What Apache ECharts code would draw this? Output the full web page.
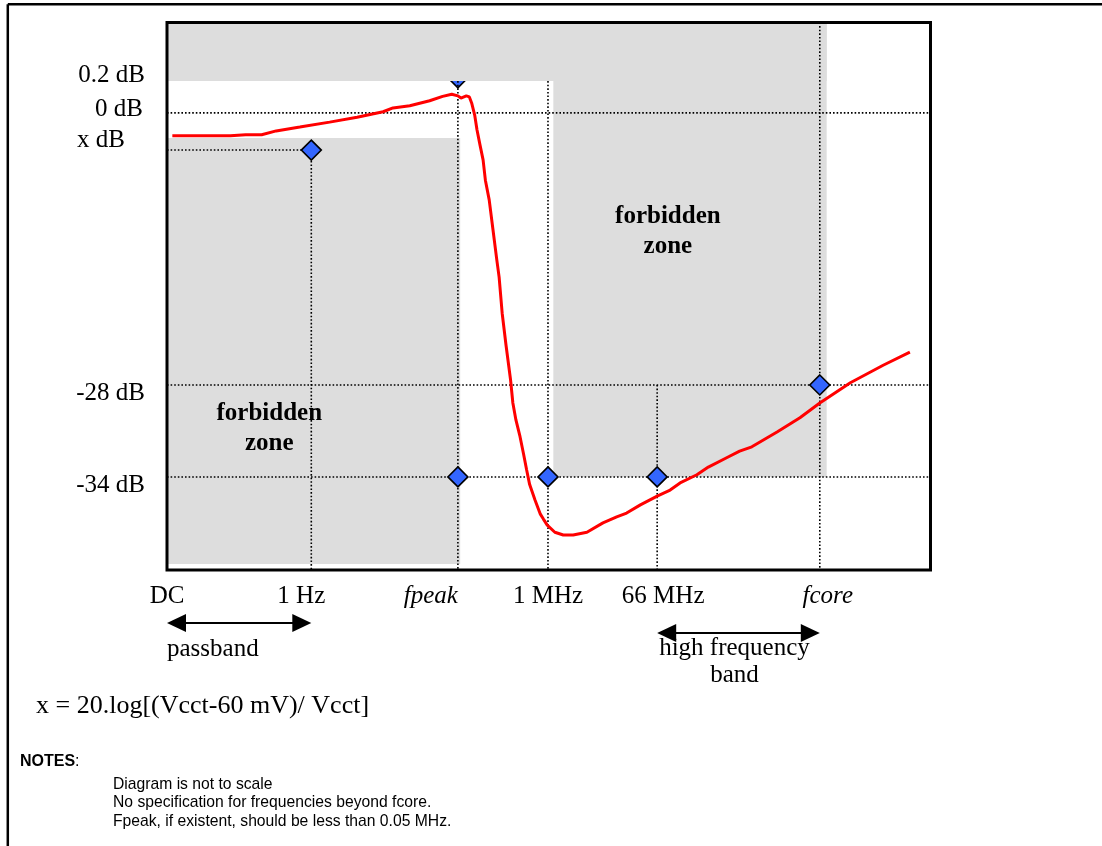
<!DOCTYPE html>
<html>
<head>
<meta charset="utf-8">
<script src="https://cdn.jsdelivr.net/npm/echarts@6/dist/echarts.min.js"></script>
<style>
html,body{margin:0;padding:0;background:#fff;}
#c{width:1102px;height:846px;}
</style>
</head>
<body>
<div id="c"></div>
<script>
// Diagram is not to scale: both axes use abstract diagram units 0..100.
const xTickLabels = ['DC', '1 Hz', 'fpeak', '1 MHz', '66 MHz', 'fcore'];
const xTickPos    = [0, 18.9, 38.1, 49.9, 64.2, 85.5];
const yTickLabels = ['0.2 dB', '0 dB', 'x dB', '-28 dB', '-34 dB'];
const yTickPos    = [89.3, 83.5, 76.7, 33.8, 17.0];

// measured response (red curve)
const responseCurve = [
  [0.7,79.3],[8.3,79.3],[10.3,79.5],[12.4,79.5],[14.3,80.2],[17.4,80.9],[21.3,81.8],
  [24.9,82.7],[28.3,83.7],[29.6,84.4],[31.8,84.8],[34.4,85.7],[36.1,86.5],[37.3,86.9],
  [38.1,86.6],[38.5,86.2],[39.2,86.6],[39.6,86.4],[39.9,85.3],[40.3,83.1],[40.6,80.4],
  [41.0,77.6],[41.4,74.9],[41.7,71.2],[42.2,67.6],[42.7,62.1],[43.2,56.6],[43.5,53.5],
  [43.9,46.9],[44.4,41.1],[45.0,34.7],[45.3,30.5],[45.7,27.4],[46.2,24.6],[46.7,21.2],
  [47.1,18.3],[47.5,15.6],[48.2,12.8],[48.9,10.2],[49.3,9.3],[49.8,8.2],[50.8,6.9],
  [51.9,6.4],[53.2,6.4],[55.0,6.9],[57.1,8.6],[58.9,9.7],[60.2,10.4],[62.0,11.9],
  [64.2,13.5],[65.9,14.6],[67.2,15.9],[69.4,17.4],[70.9,18.8],[73.3,20.5],[75.0,21.7],
  [76.6,22.5],[79.9,25.2],[82.9,27.8],[85.5,30.5],[89.5,34.2],[93.8,37.4],[97.3,39.8]
];

// specification points (blue diamonds)
const specPoints = [[18.9,76.7],[38.1,17.0],[49.9,17.0],[64.2,17.0],[85.5,33.8]];
const peakPoint  = [[38.1,89.9]];

// forbidden zones [x0, x1, y0, y1]
const forbiddenZones = [[0,86.4,89.3,100],[0,38.4,1.1,78.9],[50.6,86.4,17.0,100]];
const zoneLabelPos   = [[13.4,25.9],[65.6,61.9]];
const zoneLabelText  = ['forbidden\nzone', 'forbidden\nzone'];

// frequency bands below the axis: [label, from tick index, to tick index]
const bandNames = ['passband', 'high frequency\nband'];
const bandFrom  = [0, 4];
const bandTo    = [1, 5];

const X = i => xTickPos[i], Y = i => yTickPos[i];
const gridSegments = [
  [0, Y(1), 100, Y(1)],
  [0, Y(2), X(1), Y(2)],
  [0, Y(3), 100, Y(3)],
  [0, Y(4), 100, Y(4)],
  [X(1), Y(2), X(1), 0],
  [X(2), Y(0), X(2), 0],
  [X(3), Y(0), X(3), 0],
  [X(4), Y(3), X(4), 0],
  [X(5), 100, X(5), 0]
];

const serif = '"Liberation Serif", "Times New Roman", serif';
const sans = '"Liberation Sans", Arial, sans-serif';
const FS = 25;

// label nudges (style only)
const xRich = {
  t0:{}, t1:{padding:[0,20,0,0]}, t2:{fontStyle:'italic', padding:[0,54,0,0]},
  t3:{}, t4:{padding:[0,0,0,12]}, t5:{fontStyle:'italic', padding:[0,0,0,16]}
};
const yRich = {
  t0:{padding:[0,0,12,0]}, t1:{padding:[0,2,6,0]}, t2:{padding:[0,20,19,0]},
  t3:{padding:[17,0,0,0]}, t4:{padding:[17,0,0,0]}
};
const bandStyle = [
  {arrowDy:53, textDy:79, align:'left'},
  {arrowDy:63, textDy:92, align:'center'}
];

function idxOf(arr, v){ for(let i=0;i<arr.length;i++){ if(Math.abs(arr[i]-v)<1e-6) return i; } return -1; }

const chart = echarts.init(document.getElementById('c'), null, {renderer:'canvas'});
chart.setOption({
  animation:false,
  backgroundColor:'#fff',
  grid:{left:167, right:171.5, top:22.5, bottom:276, show:true, borderColor:'#000', borderWidth:3,
        backgroundColor:'transparent', z:10, containLabel:false, outerBoundsMode:'none'},
  xAxis:{type:'value', min:0, max:100,
    axisLine:{show:false}, axisTick:{show:false}, splitLine:{show:false},
    axisLabel:{customValues:xTickPos, margin:26, verticalAlign:'middle', fontFamily:serif, fontSize:FS, color:'#000',
      rich:xRich,
      formatter:v=>{const i=idxOf(xTickPos,v); return i<0?'':'{t'+i+'|'+xTickLabels[i]+'}';}}
  },
  yAxis:{type:'value', min:0, max:100,
    axisLine:{show:false}, axisTick:{show:false}, splitLine:{show:false},
    axisLabel:{customValues:yTickPos, margin:22, fontFamily:serif, fontSize:FS, color:'#000',
      rich:yRich,
      formatter:v=>{const i=idxOf(yTickPos,v); return i<0?'':'{t'+i+'|'+yTickLabels[i]+'}';}}
  },
  series:[
    { // fpeak / 0.2 dB marker, mostly hidden under the top zone
      type:'scatter', z:1, data:peakPoint, symbol:'diamond', symbolSize:20, silent:true,
      itemStyle:{color:'#3366ff', borderColor:'#000', borderWidth:1.6, opacity:1}
    },
    {
      type:'custom', z:2, silent:true, data:forbiddenZones,
      renderItem:(p,api)=>{
        const a = api.coord([api.value(0), api.value(3)]);
        const b = api.coord([api.value(1), api.value(2)]);
        return {type:'rect', shape:{x:a[0], y:a[1], width:b[0]-a[0], height:b[1]-a[1]}, style:{fill:'#dddddd'}};
      }
    },
    {
      type:'custom', z:3, silent:true, data:gridSegments,
      renderItem:(p,api)=>{
        const a = api.coord([api.value(0), api.value(1)]);
        const b = api.coord([api.value(2), api.value(3)]);
        return {type:'line', shape:{x1:a[0], y1:a[1], x2:b[0], y2:b[1]},
                style:{stroke:'#000', lineWidth:1.6, lineDash:[1.6,2]}};
      }
    },
    {
      type:'line', z:4, data:responseCurve, showSymbol:false, symbol:'none', smooth:false, silent:true,
      lineStyle:{color:'#ff0000', width:3}
    },
    {
      type:'scatter', z:5, data:specPoints, symbol:'diamond', symbolSize:20, silent:true,
      itemStyle:{color:'#3366ff', borderColor:'#000', borderWidth:1.6, opacity:1}
    },
    {
      type:'custom', z:6, silent:true, data:zoneLabelPos,
      renderItem:(p,api)=>{
        const c = api.coord([api.value(0), api.value(1)]);
        return {type:'text', x:c[0], y:c[1],
          style:{text:zoneLabelText[p.dataIndex], fill:'#000', font:'bold '+FS+'px '+serif,
                 lineHeight:30, align:'center', verticalAlign:'middle'}};
      }
    },
    {
      type:'custom', z:6, silent:true, clip:false,
      data:bandNames.map((n,i)=>[xTickPos[bandFrom[i]], xTickPos[bandTo[i]]]),
      renderItem:(p,api)=>{
        const i = p.dataIndex, s = bandStyle[i];
        const a = api.coord([api.value(0), 0]);
        const b = api.coord([api.value(1), 0]);
        const y = a[1] + s.arrowDy, hl = 19, hh = 9;
        const tx = s.align === 'left' ? a[0] : (a[0]+b[0])/2 - 4;
        return {type:'group', children:[
          {type:'line', shape:{x1:a[0]+hl-2, y1:y, x2:b[0]-hl+2, y2:y}, style:{stroke:'#000', lineWidth:2.2}},
          {type:'polygon', shape:{points:[[a[0],y],[a[0]+hl,y-hh],[a[0]+hl,y+hh]]}, style:{fill:'#000'}},
          {type:'polygon', shape:{points:[[b[0],y],[b[0]-hl,y-hh],[b[0]-hl,y+hh]]}, style:{fill:'#000'}},
          {type:'text', x:tx, y:a[1]+s.textDy,
           style:{text:bandNames[i], fill:'#000', font:FS+'px '+serif, lineHeight:27, align:s.align, verticalAlign:'middle'}}
        ]};
      }
    }
  ],
  graphic:[
    {type:'line', silent:true, shape:{x1:7.8, y1:4.2, x2:1102, y2:4.2}, style:{stroke:'#000', lineWidth:2.5}},
    {type:'line', silent:true, shape:{x1:7.8, y1:4.2, x2:7.8, y2:846}, style:{stroke:'#000', lineWidth:2.5}},
    {type:'text', silent:true, x:36, y:706,
     style:{text:'x = 20.log[(Vcct-60 mV)/ Vcct]', fill:'#000', font:'26px '+serif, verticalAlign:'middle'}},
    {type:'text', silent:true, x:20, y:762,
     style:{text:'{b|NOTES}:', fill:'#000', font:'16px '+sans, verticalAlign:'middle',
            rich:{b:{fontWeight:'bold', fontFamily:sans, fontSize:16}}}},
    {type:'text', silent:true, x:113, y:803,
     style:{text:'Diagram is not to scale\nNo specification for frequencies beyond fcore.\nFpeak, if existent, should be less than 0.05 MHz.',
            fill:'#000', font:'15.7px '+sans, lineHeight:18.5, verticalAlign:'middle'}}
  ]
});
</script>
</body>
</html>
